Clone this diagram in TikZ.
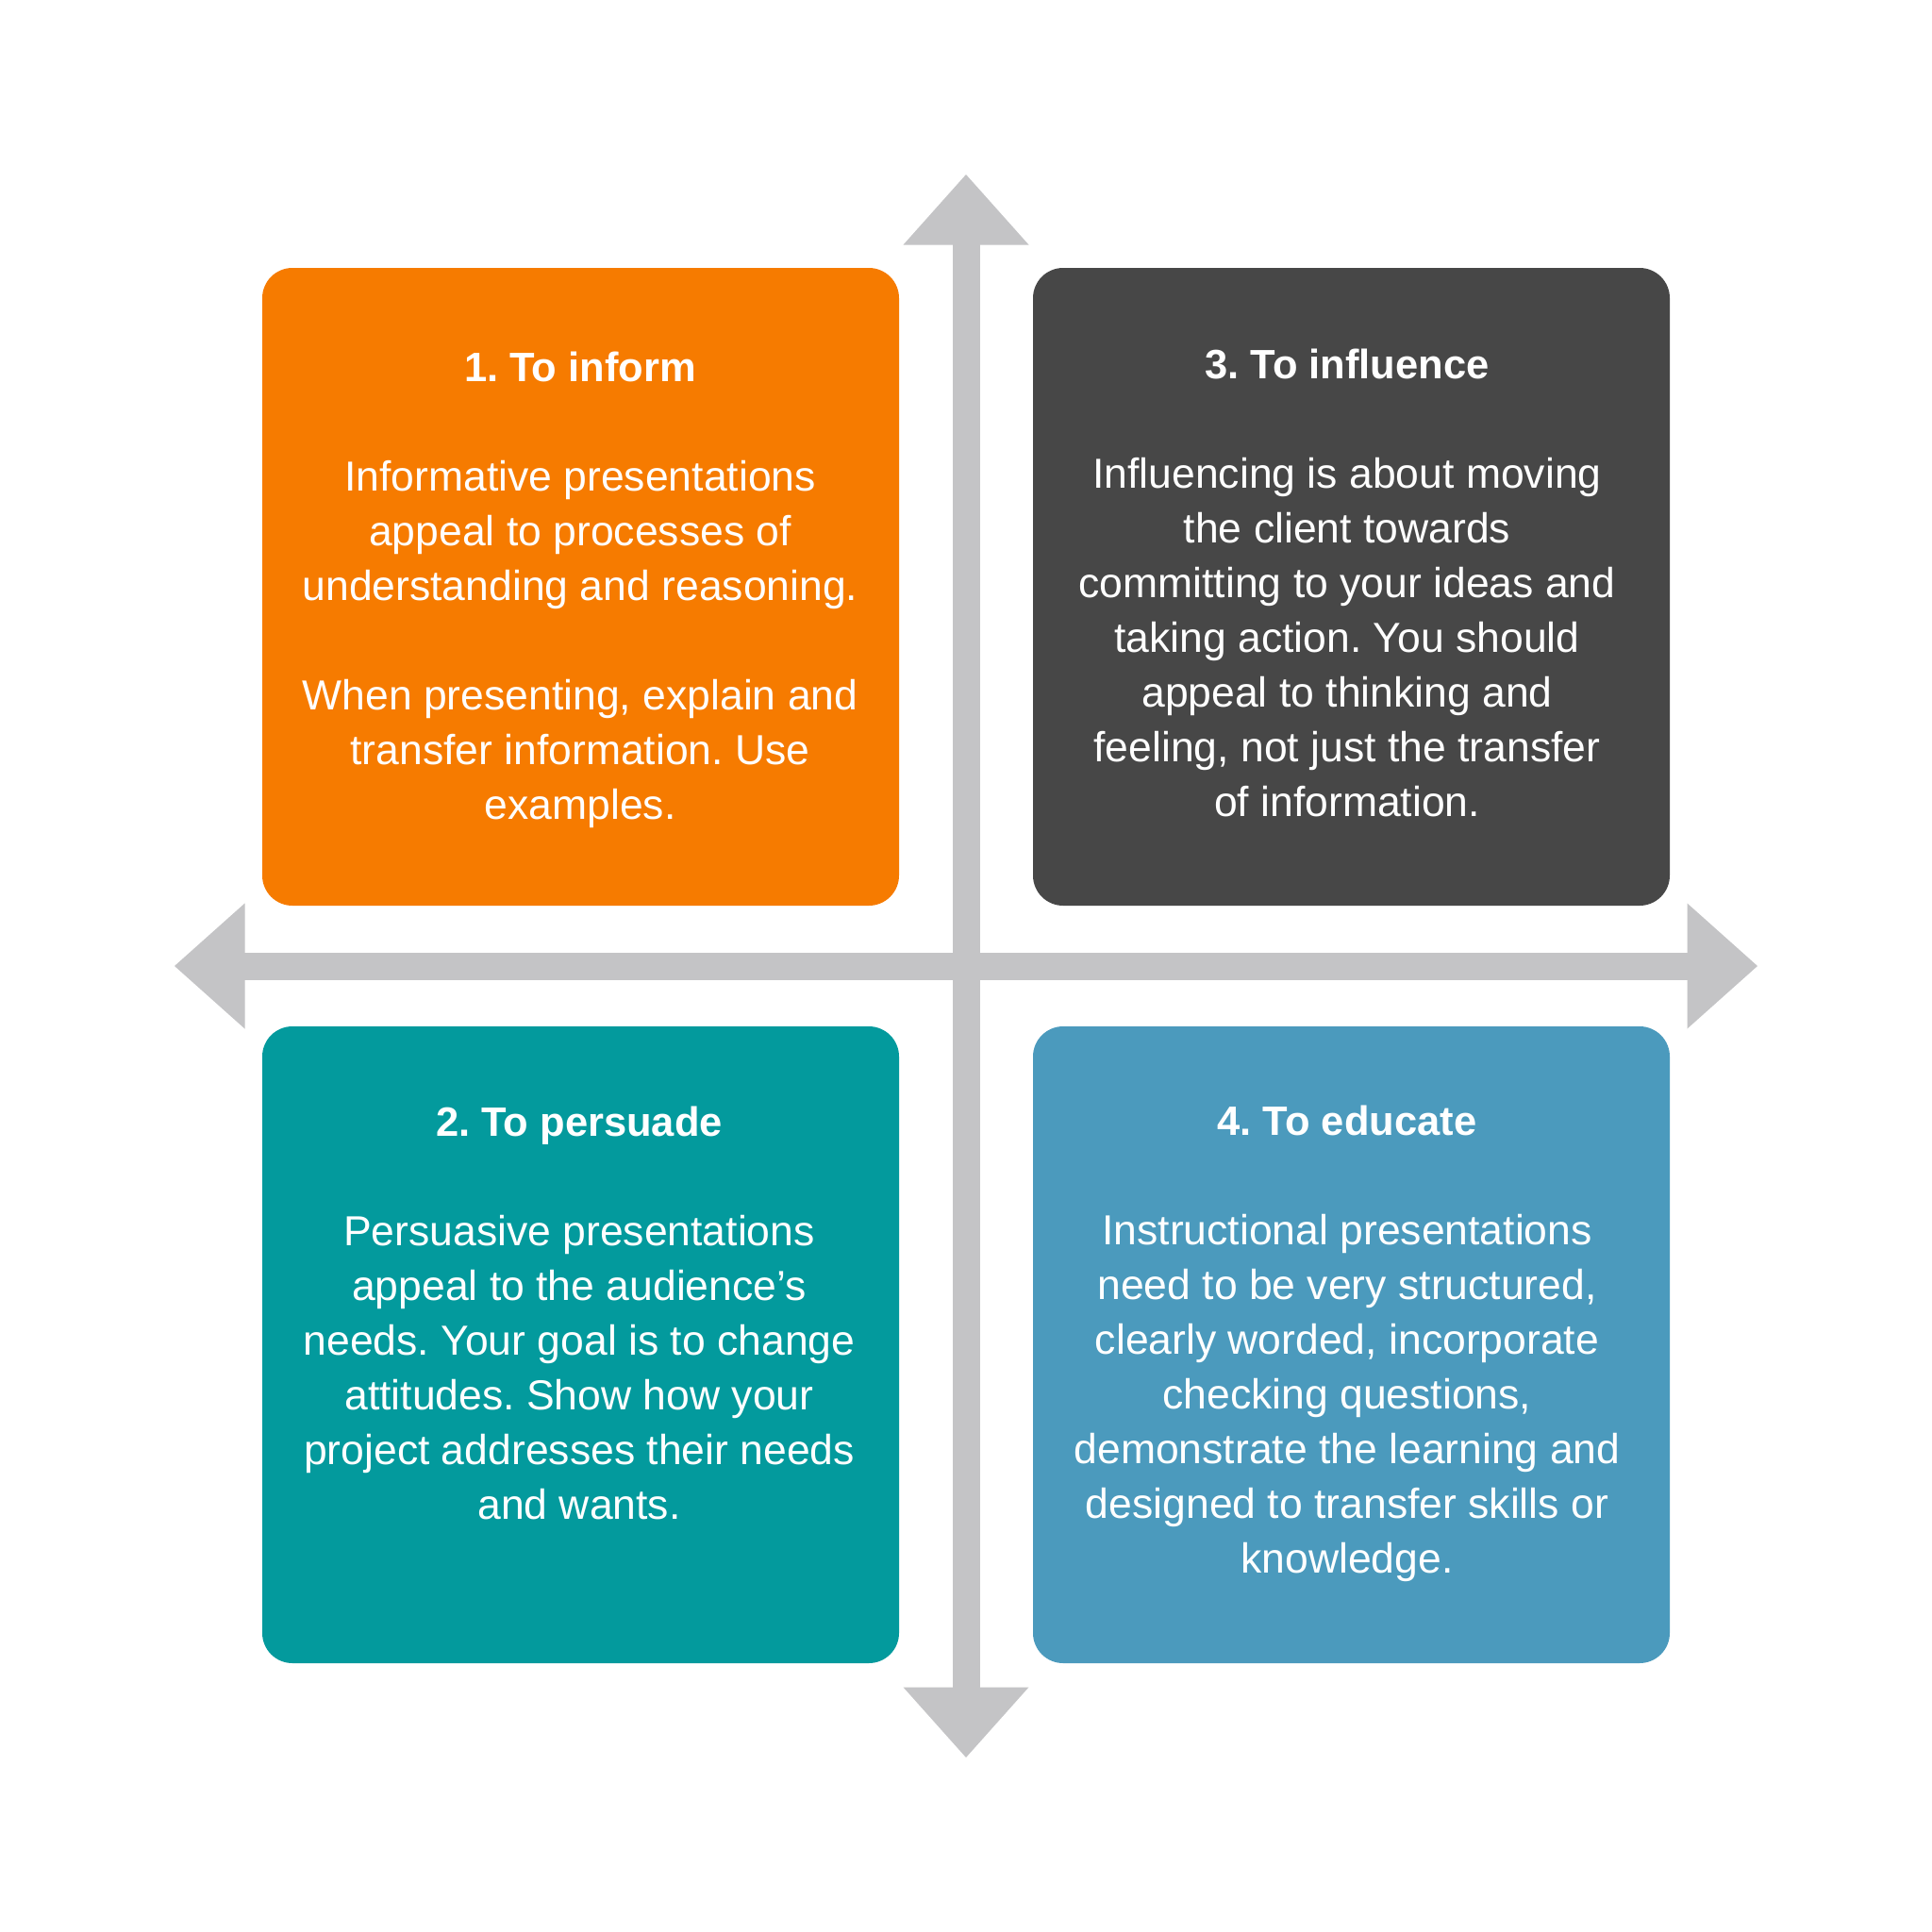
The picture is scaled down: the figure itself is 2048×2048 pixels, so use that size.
\documentclass[tikz,border=0pt]{standalone}
\usepackage{fontspec}
\setmainfont{Liberation Sans}
\frenchspacing
\definecolor{cOrange}{HTML}{F67B00}
\definecolor{cDark}{HTML}{474747}
\definecolor{cTeal}{HTML}{039A9D}
\definecolor{cBlue}{HTML}{4B9ABD}
\definecolor{cAxis}{HTML}{C4C4C6}
\tikzset{
  card/.style={fill=#1, draw=none, rounded corners=32pt},
  cardtext/.style={anchor=north, inner sep=0pt, align=center, text=white,
    font=\fontsize{44.5}{58}\selectfont},
  axis/.style={fill=cAxis, draw=none}
}
\newcommand{\cardtitle}[1]{\rule{0pt}{40pt}{\fontsize{43.5}{58}\selectfont\bfseries #1}}
\begin{document}
\frenchspacing
\begin{tikzpicture}[x=1pt,y=-1pt]
\useasboundingbox (0,0) rectangle (2048,2048);
\fill[white] (0,0) rectangle (2048,2048);
% axes
\coordinate (topTip) at (1024,185);
\coordinate (botTip) at (1024,1863);
\coordinate (leftTip) at (185,1024);
\coordinate (rightTip) at (1863,1024);
\fill[axis] (1009.5,258) rectangle (1038.5,1790);
\fill[axis] (258,1009.5) rectangle (1790,1038.5);
\fill[axis] (topTip) -- (1090.5,259.5) -- (957.5,259.5) -- cycle;
\fill[axis] (botTip) -- (1090.5,1788.5) -- (957.5,1788.5) -- cycle;
\fill[axis] (leftTip) -- (259.5,957.5) -- (259.5,1090.5) -- cycle;
\fill[axis] (rightTip) -- (1788.5,957.5) -- (1788.5,1090.5) -- cycle;
% cards
\fill[card=cOrange] (278,284) rectangle (953,960);
\fill[card=cDark] (1095,284) rectangle (1770,960);
\fill[card=cTeal] (278,1088) rectangle (953,1763);
\fill[card=cBlue] (1095,1088) rectangle (1770,1763);
% texts
\node[cardtext] (inform) at (615,364) {\cardtitle{1. To inform}\\[58pt]
Informative presentations\\
appeal to processes of\\
understanding and reasoning.\\[58pt]
When presenting, explain and\\
transfer information. Use\\
examples.};
\node[cardtext] (influence) at (1428,361) {\cardtitle{3. To influence}\\[58pt]
Influencing is about moving\\
the client towards\\
committing to your ideas and\\
taking action. You should\\
appeal to thinking and\\
feeling, not just the transfer\\
of information.};
\node[cardtext] (persuade) at (614,1164) {\cardtitle{2. To persuade}\\[58pt]
Persuasive presentations\\
appeal to the audience’s\\
needs. Your goal is to change\\
attitudes. Show how your\\
project addresses their needs\\
and wants.};
\node[cardtext] (educate) at (1428,1163) {\cardtitle{4. To educate}\\[58pt]
Instructional presentations\\
need to be very structured,\\
clearly worded, incorporate\\
checking questions,\\
demonstrate the learning and\\
designed to transfer skills or\\
knowledge.};
\end{tikzpicture}
\end{document}
